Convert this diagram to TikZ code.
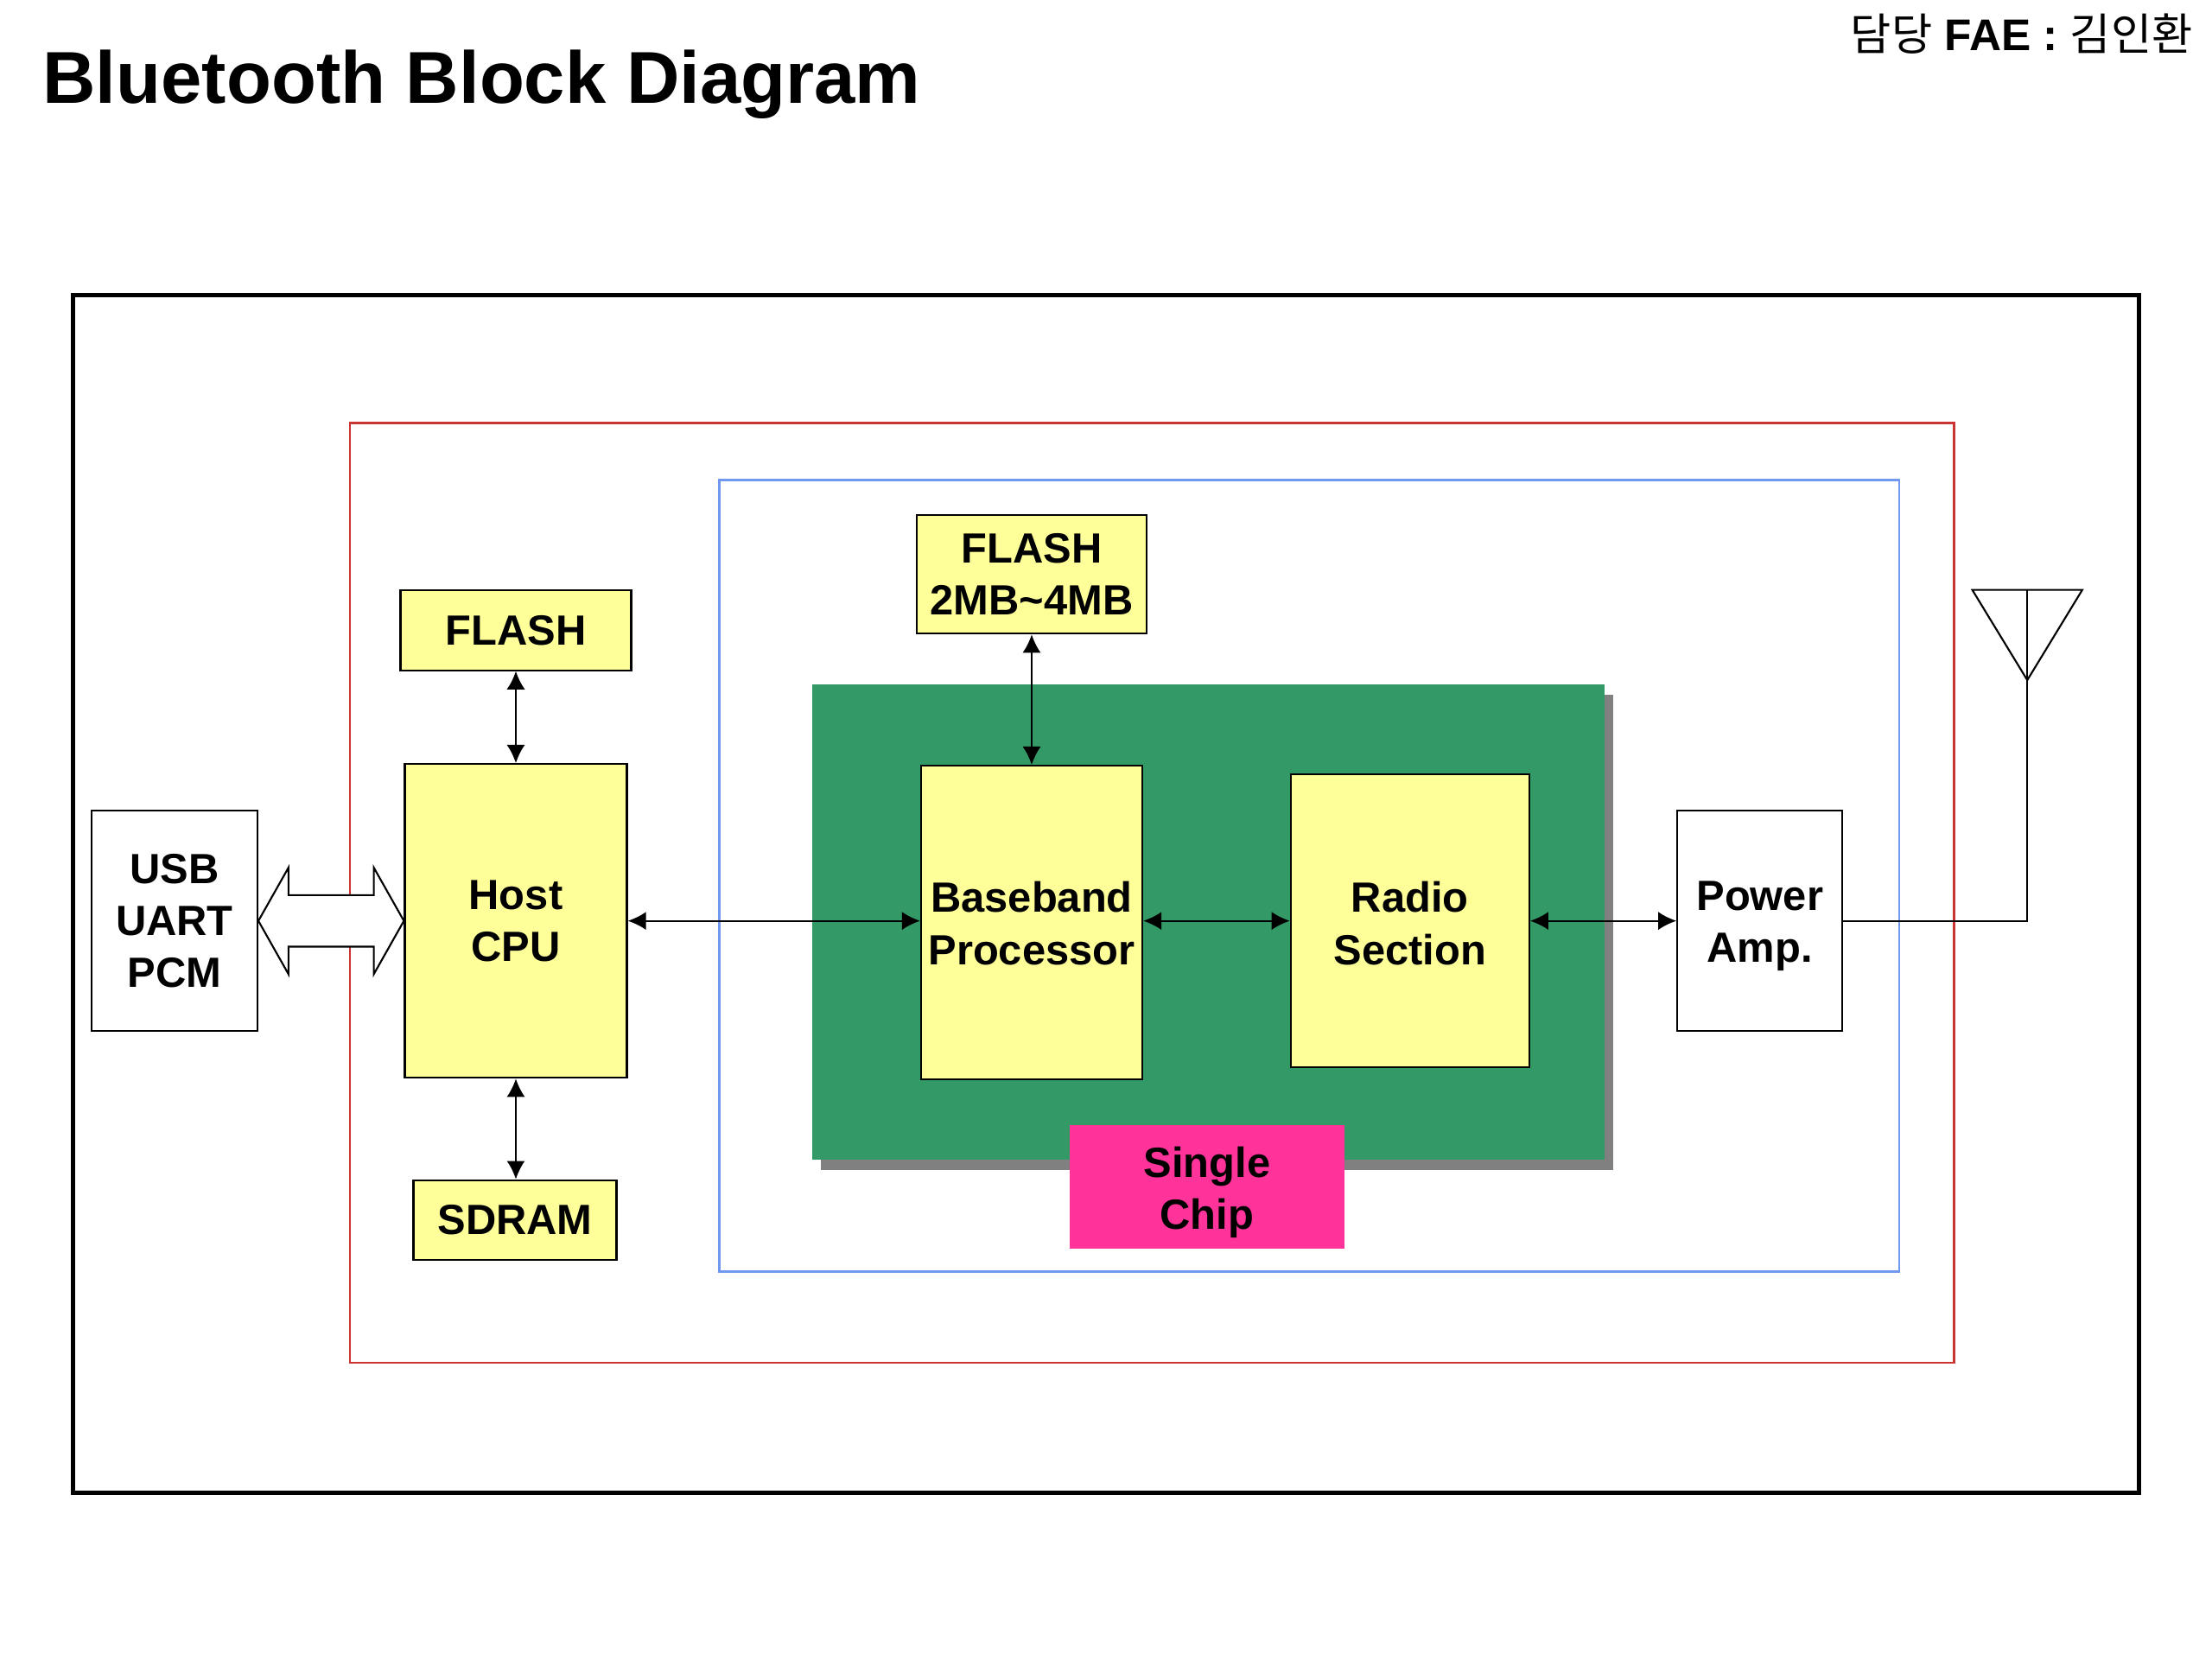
\documentclass[tikz,border=0pt]{standalone}
\usepackage{fontspec}
\setmainfont{Liberation Sans}
\newfontfamily\krfont{Noto Sans CJK KR}
\usetikzlibrary{arrows.meta,calc}
\definecolor{boxyellow}{HTML}{FFFF99}
\definecolor{chipgreen}{HTML}{339966}
\definecolor{chippink}{HTML}{FF3399}
\definecolor{shadowgray}{HTML}{808080}
\definecolor{redline}{HTML}{CC3333}
\definecolor{blueline}{HTML}{6F98EE}
\begin{document}
\begin{tikzpicture}[x=0.00995cm,y=-0.00995cm,
  txt/.style={inner sep=0pt, align=center, font=\fontsize{13.9}{17.2}\selectfont\bfseries},
  blk/.style={txt, draw=black, line width=0.6pt},
  ybox/.style={blk, fill=boxyellow},
  wbox/.style={blk, fill=white},
  conn/.style={line width=0.6pt, {Latex[length=6pt,width=6pt]}-{Latex[length=6pt,width=6pt]}},
  wire/.style={line width=0.6pt},
]
\useasboundingbox (0,0) rectangle (2572.864,1929.648);

% title and author
\node[anchor=base west, inner sep=0pt, font=\fontsize{24.2}{29}\selectfont\bfseries] (title) at (49,120) {Bluetooth Block Diagram};
\node[anchor=base east, inner sep=0pt, font=\fontsize{14.6}{17}\selectfont] (fae) at (2551,59) {{\krfont 담당} \textbf{FAE :} {\krfont 김인환}};

% frames
\draw[line width=1.4pt] (85,343) rectangle (2488,1736);
\draw[redline, line width=0.7pt] (407,492) rectangle (2273,1585);
\draw[blueline, line width=0.8pt] (837,558) rectangle (2209,1479);

% single chip area
\fill[shadowgray] (955,808) rectangle (1876,1361);
\fill[chipgreen] (945,796) rectangle (1866,1349);

% blocks
\node[ybox, minimum width=2.67cm, minimum height=0.925cm] (flashA) at (600,733) {FLASH};
\node[ybox, minimum width=2.57cm, minimum height=3.63cm] (cpu) at (600,1071) {Host\\CPU};
\node[ybox, minimum width=2.35cm, minimum height=0.925cm] (sdram) at (599,1419) {SDRAM};
\node[wbox, minimum width=1.92cm, minimum height=2.55cm] (usb) at (203,1071) {USB\\UART\\PCM};
\node[ybox, minimum width=2.66cm, minimum height=1.37cm] (flashB) at (1200,668) {FLASH\\2MB\textasciitilde 4MB};
\node[ybox, minimum width=2.56cm, minimum height=3.63cm] (bb) at (1200,1073) {};
\node[txt] (bbtext) at (1200,1074) {Baseband\\Processor};
\node[ybox, minimum width=2.76cm, minimum height=3.39cm] (radio) at (1640,1071) {};
\node[txt] (radiotext) at (1640,1074) {Radio\\Section};
\node[wbox, minimum width=1.91cm, minimum height=2.55cm] (pa) at (2047,1071) {};
\node[txt] (patext) at (2047,1077) {Power\\Amp.};
\node[blk, draw=none, fill=chippink, minimum width=3.18cm, minimum height=1.43cm] (chip) at (1404,1380) {};
\node[txt] (chiptext) at (1404,1387) {Single\\Chip};

% block arrow USB <-> Host CPU
\draw[wire, fill=white] (usb.east) -- ++(35,-62) -- ++(0,32)
  -- ($(cpu.west)+(-35,-30)$) -- ++(0,-32) -- (cpu.west) -- ++(-35,62) -- ++(0,-32)
  -- ($(usb.east)+(35,30)$) -- ++(0,32) -- cycle;

% connectors
\draw[conn] (flashA.south) -- (cpu.north);
\draw[conn] (cpu.south) -- (cpu.south |- sdram.north);
\draw[conn] (flashB.south) -- (bb.north);
\draw[conn] (cpu.east) -- (cpu.east -| bb.west);
\draw[conn] (cpu.east -| bb.east) -- (cpu.east -| radio.west);
\draw[conn] (radio.east) -- (pa.west);

% antenna
\coordinate (antL) at (2294,686);
\coordinate (antR) at (2422,686);
\coordinate (antapex) at (2358,791);
\coordinate (anttop) at (2358,686);
\draw[wire] (antL) -- (antR) -- (antapex) -- cycle;
\draw[wire] (pa.east) -| (anttop);
\end{tikzpicture}
\end{document}
